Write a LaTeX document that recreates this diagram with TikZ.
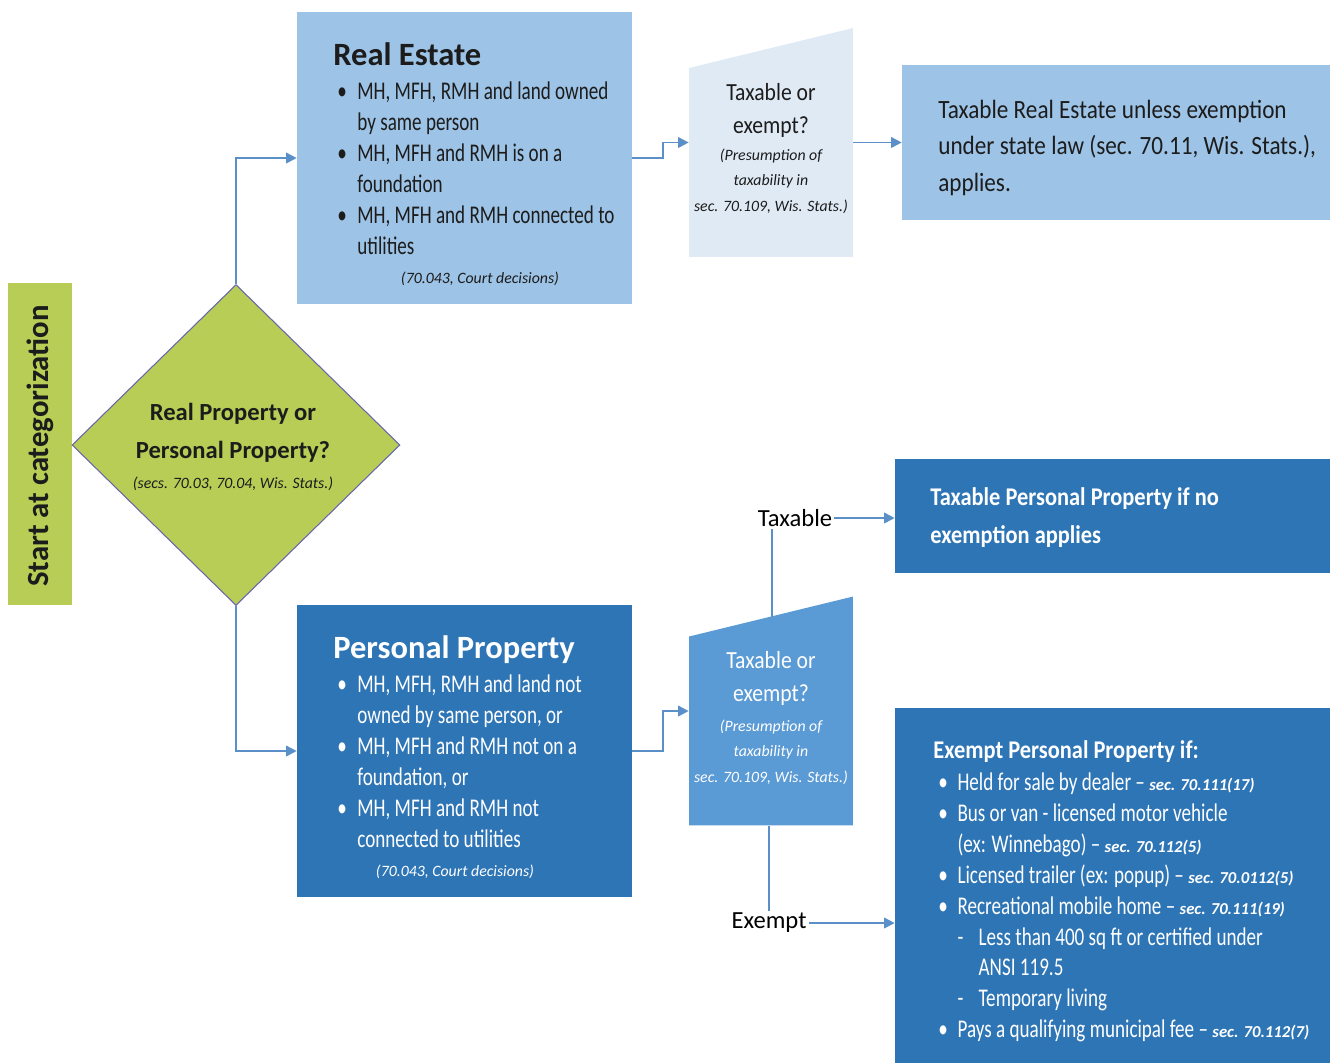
\documentclass[tikz,border=0pt]{standalone}
\usepackage{fontspec}
\setmainfont{Carlito}
\newfontfamily\condfont[FakeStretch=0.75]{Carlito}
\newfontfamily\semifont[FakeStretch=0.88]{Carlito}
\usetikzlibrary{arrows.meta,positioning,shapes.geometric}

\definecolor{startgreen}{HTML}{B7CD56}
\definecolor{realblue}{HTML}{9DC3E6}
\definecolor{persblue}{HTML}{2E75B6}
\definecolor{askblue}{HTML}{5A9AD5}
\definecolor{askpale}{HTML}{DFEAF5}
\definecolor{linkblue}{HTML}{5A8FC8}
\definecolor{inkdark}{HTML}{1C1C1C}

\newcommand{\lawref}[1]{{\rmfamily\fontsize{9.5}{9}\selectfont\bfseries\itshape #1}}

\begin{document}
\begin{tikzpicture}[x=0.02cm, y=-0.02cm,
    panel/.style={fill=#1, inner sep=0pt},
    ask/.style={minimum width=3.28cm, minimum height=4.58cm, inner sep=0pt,
      path picture={\fill[#1] ([yshift=-0.8cm]path picture bounding box.north west)
        -- (path picture bounding box.north east)
        -- (path picture bounding box.south east)
        -- (path picture bounding box.south west) -- cycle;}},
    asktext/.style={inner sep=0pt, anchor=north, font=\semifont\fontsize{14}{18.8}\selectfont},
    lawtext/.style={inner sep=0pt, anchor=north, font=\itshape\fontsize{9}{14.5}\selectfont},
    listtext/.style={inner sep=0pt, anchor=north west, font=\condfont\fontsize{14.5}{17.6}\selectfont},
    heading/.style={inner sep=0pt, anchor=base west, font=\bfseries\fontsize{18.5}{22}\selectfont},
    link/.style={draw=linkblue, line width=1pt, -{Triangle[length=6pt, width=6pt]}},
    stem/.style={draw=linkblue, line width=0.8pt}
  ]
  \useasboundingbox (0,0) rectangle (1335,1063);

  % Start and decision
  \node[panel=startgreen, minimum width=1.28cm, minimum height=6.44cm] (start) at (40,444) {};
  \node[rotate=90, text=inkdark, font=\bfseries\fontsize{17.5}{20}\selectfont] (startlab) at (40,446) {Start at categorization};
  \node[diamond, fill=startgreen, draw=black!55!blue!60, line width=0.6pt, inner sep=0pt,
        minimum width=6.56cm, minimum height=6.42cm] (decide) at (236,445) {};
  \node[inner sep=0pt, anchor=north, text=inkdark, font=\bfseries\fontsize{14}{21.6}\selectfont] (decidetext) at (233,393.4)
    {\begin{tabular}{@{}c@{}}Real Property or\\Personal Property?\end{tabular}};
  \node[inner sep=0pt, text=inkdark, font=\itshape\fontsize{9}{10}\selectfont] (decidelaw) at (233,484)
    {(secs. 70.03, 70.04, Wis. Stats.)};

  % Real estate branch
  \node[panel=realblue, minimum width=6.7cm, minimum height=5.84cm] (realest) at (464.5,158) {};
  \node[heading, text=inkdark] (retitle) at (333,65) {Real Estate};
  \node[listtext, text=inkdark] (relist) at (337,77.4) {%
    \begin{tabular}{@{}l@{\hspace{6pt}}l@{}}
      \textbullet & MH, MFH, RMH and land owned\\
                  & by same person\\
      \textbullet & MH, MFH and RMH is on a\\
                  & foundation\\
      \textbullet & MH, MFH and RMH connected to\\
                  & utilities
    \end{tabular}};
  \node[inner sep=0pt, text=inkdark, font=\itshape\fontsize{9}{10}\selectfont] (relaw) at (480,279) {(70.043, Court decisions)};

  \node[ask=askpale] (q1) at (771,142.5) {};
  \node[asktext, text=inkdark] (q1text) at (771,77)
    {\begin{tabular}{@{}c@{}}Taxable or\\exempt?\end{tabular}};
  \node[lawtext, text=inkdark] (q1law) at (771,142)
    {\begin{tabular}{@{}c@{}}(Presumption of\\taxability in\\sec. 70.109, Wis. Stats.)\end{tabular}};

  \node[panel=realblue, minimum width=8.56cm, minimum height=3.1cm] (taxre) at (1116,142.5) {};
  \node[inner sep=0pt, anchor=north west, text=inkdark, font=\semifont\fontsize{15}{20.8}\selectfont] (taxretext) at (938,92.4)
    {\begin{tabular}{@{}l@{}}Taxable Real Estate unless exemption\\under state law (sec. 70.11, Wis. Stats.),\\applies.\end{tabular}};

  % Personal property branch
  \node[panel=persblue, minimum width=6.7cm, minimum height=5.84cm] (persprop) at (464.5,751) {};
  \node[heading, text=white] (pptitle) at (333,658) {Personal Property};
  \node[listtext, text=white] (pplist) at (337,670.4) {%
    \begin{tabular}{@{}l@{\hspace{6pt}}l@{}}
      \textbullet & MH, MFH, RMH and land not\\
                  & owned by same person, or\\
      \textbullet & MH, MFH and RMH not on a\\
                  & foundation, or\\
      \textbullet & MH, MFH and RMH not\\
                  & connected to utilities
    \end{tabular}};
  \node[inner sep=0pt, text=white, font=\itshape\fontsize{9}{10}\selectfont] (pplaw) at (455,872) {(70.043, Court decisions)};

  \node[ask=askblue] (q2) at (771,711) {};
  \node[asktext, text=white] (q2text) at (771,645)
    {\begin{tabular}{@{}c@{}}Taxable or\\exempt?\end{tabular}};
  \node[lawtext, text=white] (q2law) at (771,713)
    {\begin{tabular}{@{}c@{}}(Presumption of\\taxability in\\sec. 70.109, Wis. Stats.)\end{tabular}};
  \coordinate (q2top) at (772,617);

  \node[font=\fontsize{14}{16}\selectfont, text=black, inner sep=1pt] (taxlab) at (795,518) {Taxable};
  \node[font=\fontsize{14}{16}\selectfont, text=black, inner sep=1pt] (exlab) at (769,923) {Exempt};

  \node[panel=persblue, minimum width=8.7cm, minimum height=2.28cm] (taxpp) at (1112.5,516) {};
  \node[inner sep=0pt, anchor=north west, text=white, font=\semifont\bfseries\fontsize{14.5}{22}\selectfont] (taxpptext) at (930,477.7)
    {\begin{tabular}{@{}l@{}}Taxable Personal Property if no\\exemption applies\end{tabular}};

  \node[panel=persblue, minimum width=8.7cm, minimum height=7.1cm] (expp) at (1112.5,885.5) {};
  \node[inner sep=0pt, anchor=base west, text=white, font=\semifont\bfseries\fontsize{14.5}{17}\selectfont] (exptitle) at (933,758)
    {Exempt Personal Property if:};
  \node[listtext, text=white] (exlist) at (938,768.4) {%
    \begin{tabular}{@{}l@{\hspace{5.5pt}}l@{}}
      \textbullet & Held for sale by dealer – \lawref{sec. 70.111(17)}\\
      \textbullet & Bus or van - licensed motor vehicle\\
                  & (ex: Winnebago) – \lawref{sec. 70.112(5)}\\
      \textbullet & Licensed trailer (ex: popup) – \lawref{sec. 70.0112(5)}\\
      \textbullet & Recreational mobile home – \lawref{sec. 70.111(19)}\\
                  & \makebox[12pt][l]{-}Less than 400 sq ft or certified under\\
                  & \hspace{12pt}ANSI 119.5\\
                  & \makebox[12pt][l]{-}Temporary living\\
      \textbullet & Pays a qualifying municipal fee – \lawref{sec. 70.112(7)}
    \end{tabular}};

  % Connectors
  \draw[link] (decide.north) |- (realest.west);
  \draw[link] (decide.south) |- (persprop.west);
  \draw[link] (realest.east) -- ++(31,0) |- (q1.west);
  \draw[link] (persprop.east) -- ++(31,0) |- (q2.west);
  \draw[link] (q1.east) -- (taxre.west);
  \draw[stem] (q2top) -- (q2top |- taxlab.south);
  \draw[link] (taxlab.east) -- (taxlab.east -| taxpp.west);
  \draw[stem] (exlab.north |- q2.south) -- (exlab.north);
  \draw[link] (exlab.east) -- (exlab.east -| expp.west);
\end{tikzpicture}
\end{document}
